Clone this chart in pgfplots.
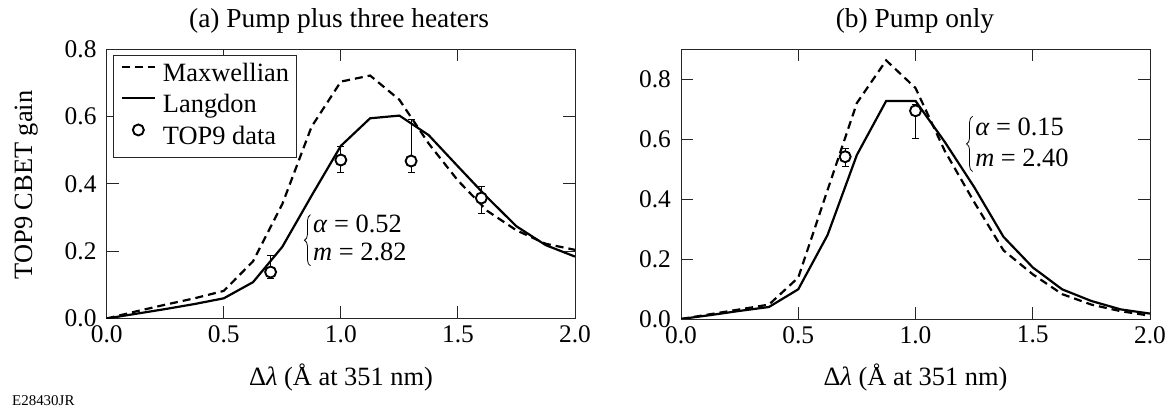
\documentclass[border=0pt]{standalone}
\usepackage{fontspec}
\setmainfont{Liberation Serif}
\usepackage{pgfplots}
\pgfplotsset{compat=1.18}
\usetikzlibrary{decorations.pathreplacing}
\tikzset{bracestyle/.style={decorate, decoration={brace, amplitude=6bp}, line width=0.8bp, black}}

\pgfplotstableread{
x y
0     0
0.125 0.021
0.25  0.041
0.375 0.060
0.5   0.082
0.625 0.17
0.75  0.34
0.875 0.57
1.0   0.704
1.125 0.722
1.25  0.65
1.375 0.52
1.5   0.41
1.625 0.32
1.75  0.262
1.875 0.222
2.0   0.204
}\maxwA
\pgfplotstableread{
x y
0     0
0.125 0.014
0.25  0.028
0.375 0.043
0.5   0.060
0.625 0.108
0.75  0.213
0.875 0.365
1.0   0.513
1.125 0.595
1.25  0.603
1.375 0.545
1.5   0.452
1.625 0.36
1.75  0.274
1.875 0.218
2.0   0.184
}\langA
\pgfplotstableread{
x y
0     0
0.125 0.016
0.25  0.032
0.375 0.048
0.5   0.138
0.625 0.43
0.75  0.72
0.875 0.862
1.0   0.77
1.125 0.56
1.25  0.39
1.375 0.229
1.5   0.149
1.625 0.083
1.75  0.048
1.875 0.026
2.0   0.011
}\maxwB
\pgfplotstableread{
x y
0     0
0.125 0.013
0.25  0.027
0.375 0.040
0.5   0.099
0.625 0.28
0.75  0.547
0.875 0.727
1.0   0.727
1.125 0.59
1.25  0.44
1.375 0.274
1.5   0.172
1.625 0.099
1.75  0.06
1.875 0.032
2.0   0.018
}\langB

\pgfplotsset{
  myaxis/.style={
    scale only axis,
    xmin=0, xmax=2, ymin=0,
    xtick={0,0.5,1,1.5,2},
    tick align=inside,
    xtick pos=both, ytick pos=both,
    major tick length=12bp,
    axis line style={black!85, line width=0.9bp},
    tick style={black!85, line width=0.9bp},
    tick label style={font=\fontsize{25.5}{30}\selectfont, inner sep=0pt},
    xticklabel style={anchor=north, yshift=-7bp},
    yticklabel style={anchor=east, xshift=-10bp},
    /pgf/number format/.cd, fixed, fixed zerofill, precision=1, assume math mode=true,
    /pgfplots/.cd,
  },
  maxw/.style={black, line width=2.2bp, dash pattern=on 8bp off 5bp, no marks,
    legend image code/.code={\draw[##1] (0bp,8bp) -- (33bp,8bp);}},
  lang/.style={black, line width=2.2bp, no marks,
    legend image code/.code={\draw[##1] (0bp,8bp) -- (33bp,8bp);}},
  errs/.style={forget plot, only marks, mark=none,
    error bars/.cd, y dir=both, y explicit,
    error bar style={line width=1bp, black, solid},
    error mark=-,
    error mark options={line width=1bp, mark size=3.5bp, black, rotate=90}},
  dat/.style={only marks, mark=*, mark size=5.5bp,
    mark options={fill=white, draw=black, line width=1.9bp, solid},
    legend image code/.code={\draw[##1] plot coordinates {(16.5bp,8bp)};}},
}

\begin{document}
\begin{tikzpicture}
\path[use as bounding box] (0bp,0bp) rectangle (1169bp,408bp);

\begin{axis}[myaxis, at={(106.7bp,89.5bp)}, anchor=south west,
  width=468.3bp, height=269.2bp, ymax=0.8, ytick={0,0.2,0.4,0.6,0.8},
  legend style={at={(0,1)}, anchor=north west, xshift=6.6bp, yshift=-5.7bp,
    draw=black!85, line width=0.9bp, inner sep=7bp, row sep=6bp, column sep=7bp,
    font=\fontsize{26.5}{31}\selectfont,
    nodes={text height=19bp, text depth=6bp, inner sep=0pt}},
  legend cell align=left]
\addplot[maxw] table {\maxwA};
\addlegendentry{Maxwellian}
\addplot[lang] table {\langA};
\addlegendentry{Langdon}
\addplot[errs] coordinates {
  (0.7,0.138) += (0,0.048) -= (0,0.02)
  (1.0,0.471) += (0,0.04) -= (0,0.038)
  (1.3,0.468) += (0,0.122) -= (0,0.033)
  (1.6,0.358) += (0,0.034) -= (0,0.045)
};
\addplot[dat] coordinates {(0.7,0.138) (1.0,0.471) (1.3,0.468) (1.6,0.358)};
\addlegendentry{TOP9 data}
\node[anchor=west, inner sep=0pt, font=\fontsize{26.5}{29}\selectfont] (ta) at (axis cs:0.881,0.231)
  {\begin{tabular}{@{}l@{}}\textit{α} = 0.52\\ \textit{m} = 2.82\end{tabular}};
\draw[bracestyle] ([xshift=-2.5bp,yshift=4bp]ta.south west) -- ([xshift=-2.5bp,yshift=-3bp]ta.north west);
\end{axis}

\begin{axis}[myaxis, at={(681bp,89bp)}, anchor=south west,
  width=469bp, height=270bp, ymax=0.9, ytick={0,0.2,0.4,0.6,0.8}]
\addplot[maxw] table {\maxwB};
\addplot[lang] table {\langB};
\addplot[errs] coordinates {
  (0.7,0.541) += (0,0.028) -= (0,0.033)
  (1.0,0.694) += (0,0.02) -= (0,0.092)
};
\addplot[dat] coordinates {(0.7,0.541) (1.0,0.694)};
\node[anchor=west, inner sep=0pt, font=\fontsize{26.5}{31}\selectfont] (tb) at (axis cs:1.254,0.582)
  {\begin{tabular}{@{}l@{}}\textit{α} = 0.15\\ \textit{m} = 2.40\end{tabular}};
\draw[bracestyle] ([xshift=-2.5bp,yshift=4bp]tb.south west) -- ([xshift=-2.5bp,yshift=-3bp]tb.north west);
\end{axis}

\node[anchor=base, font=\fontsize{27.5}{30}\selectfont] at (339bp,380bp) {(a) Pump plus three heaters};
\node[anchor=base, font=\fontsize{27.5}{30}\selectfont] at (915bp,380bp) {(b) Pump only};
\node[anchor=base, font=\fontsize{26.5}{30}\selectfont] at (341bp,23bp) {Δ\textit{λ} (Å at 351 nm)};
\node[anchor=base, font=\fontsize{26.5}{30}\selectfont] at (915.5bp,23bp) {Δ\textit{λ} (Å at 351 nm)};
\node[rotate=90, anchor=base, font=\fontsize{26.5}{30}\selectfont] at (32bp,223bp) {TOP9 CBET gain};
\node[anchor=base west, inner sep=0pt, font=\fontsize{15}{18}\selectfont] at (12bp,2.5bp) {E28430JR};
\end{tikzpicture}
\end{document}
